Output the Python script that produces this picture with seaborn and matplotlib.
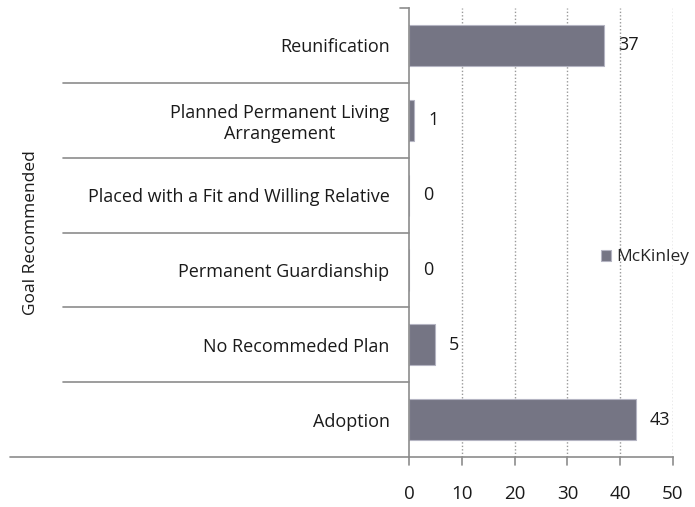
import pandas as pd
import seaborn as sns
import matplotlib.pyplot as plt

goals = ["Reunification", "Planned Permanent Living\nArrangement",
         "Placed with a Fit and Willing Relative", "Permanent Guardianship",
         "No Recommeded Plan", "Adoption"]
counts = [37, 1, 0, 0, 5, 43]
xticks = [0, 10, 20, 30, 40, 50]

df = pd.DataFrame({"Goal": goals, "Count": counts})

sns.set_style("ticks")
plt.rcParams['font.family'] = ['Open Sans', 'DejaVu Sans']

fig = plt.figure(figsize=(6.95, 5.07), dpi=100)
ax = fig.add_axes([0.5885, 0.0986, 0.3798, 0.8856])

bar_color = "#727286"
sns.barplot(data=df, x="Count", y="Goal", order=goals, color=bar_color,
            width=0.55, edgecolor="#b4b4c2", linewidth=0.8,
            label="McKinley", ax=ax)

ax.set_xlim(0, 50)
ax.set_ylim(len(goals) - 0.5, -0.5)
ax.set_xticks(xticks)
ax.set_xlabel("")
ax.set_ylabel("Goal Recommended", fontsize=12.5, color="#1a1a1a")
ax.yaxis.set_label_coords(-1.40, 0.5)

# dotted vertical gridlines
for v in xticks[1:]:
    ax.axvline(v, color="#999999", linestyle=(0, (1, 1.5)), linewidth=1, zorder=0)

for s in ["top", "right"]:
    ax.spines[s].set_visible(False)
for s in ["left", "bottom"]:
    ax.spines[s].set_color("#8c8c8c")
    ax.spines[s].set_linewidth(1.2)

ax.tick_params(axis="y", left=False, length=0, pad=14, labelsize=13, colors="#1a1a1a")
ax.tick_params(axis="x", length=0, pad=20, labelsize=13.5, labelcolor="#1a1a1a")
for lbl in ax.get_yticklabels():
    lbl.set_multialignment("center")

# x tick marks below the axis
xtr = ax.get_xaxis_transform()
for v in xticks:
    ax.plot([v, v], [0, -0.018], transform=xtr, color="#8c8c8c", lw=1.2, clip_on=False)

# category separators extending into label area (Excel style)
tr = ax.get_yaxis_transform()
ax.plot([-0.035, 0], [-0.5, -0.5], transform=tr, color="#8c8c8c", lw=1.2, clip_on=False)
for b in range(len(goals) - 1):
    ax.plot([-1.31, 0], [b + 0.5, b + 0.5], transform=tr, color="#8c8c8c",
            lw=1.2, clip_on=False)
ax.plot([-1.51, 0], [len(goals) - 0.5] * 2, transform=tr, color="#8c8c8c",
        lw=1.2, clip_on=False)

# data labels
for i, c in enumerate(counts):
    ax.annotate(str(c), (c, i), xytext=(10, 0), textcoords="offset points",
                ha="left", va="center", fontsize=13, color="#1a1a1a")

leg = ax.legend(loc="center left", bbox_to_anchor=(0.7, 0.445), frameon=False,
                fontsize=12.5, handlelength=0.6, handleheight=0.6, handletextpad=0.3,
                borderaxespad=0)

fig.savefig("out.png", dpi=100)
